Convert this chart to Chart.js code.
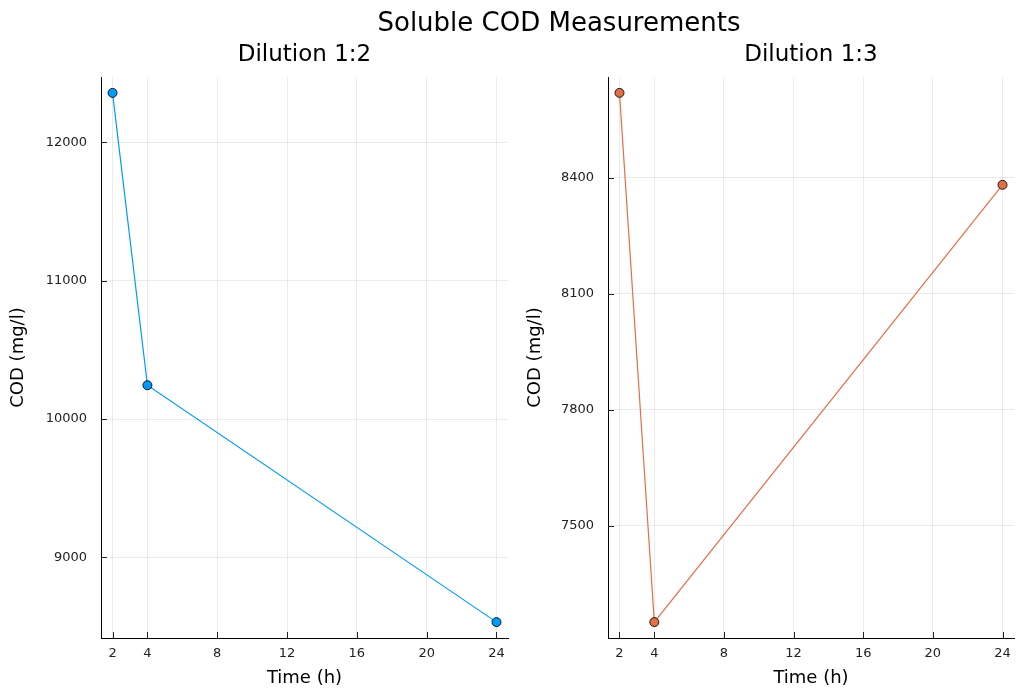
<!DOCTYPE html>
<html>
<head>
<meta charset="utf-8">
<script src="https://cdn.jsdelivr.net/npm/chart.js@4/dist/chart.umd.min.js"></script>
<style>
  html, body { margin: 0; padding: 0; background: #fff; }
  #wrap { position: relative; width: 1016px; height: 693px; overflow: hidden; font-family: "DejaVu Sans", sans-serif; color: #000; }
  .ttl { position: absolute; white-space: nowrap; line-height: 1; transform: translateX(-50%); }
  #c1 { position: absolute; left: 0; top: 0; }
  #c2 { position: absolute; left: 515px; top: 0; }
</style>
</head>
<body>
<div id="wrap">
  <canvas id="c1" width="515" height="693"></canvas>
  <canvas id="c2" width="501" height="693"></canvas>
  <div class="ttl" style="left:559px; top:9px; font-size:26px;">Soluble COD Measurements</div>
  <div class="ttl" style="left:304.5px; top:42px; font-size:23px;">Dilution 1:2</div>
  <div class="ttl" style="left:811px; top:42px; font-size:23px;">Dilution 1:3</div>
</div>
<script>
const timeH = [2, 4, 24];
const dilution12 = [12357, 10244, 8532];
const dilution13 = [8620, 7250, 8382];
const xTickValues = [2, 4, 8, 12, 16, 20, 24];
const leftYTicks = [9000, 10000, 11000, 12000];
const rightYTicks = [7500, 7800, 8100, 8400];
const xLabel = 'Time (h)';
const yLabel = 'COD (mg/l)';

const FONT = '"DejaVu Sans", sans-serif';

function lims(arr) {
  const mn = Math.min(...arr), mx = Math.max(...arr);
  const m = (mx - mn) * 0.03;
  return [mn - m, mx + m];
}

const innerTicks = {
  id: 'innerTicks',
  afterDraw(chart) {
    const ctx = chart.ctx;
    const a = chart.chartArea;
    ctx.save();
    ctx.strokeStyle = '#222';
    ctx.lineWidth = 1;
    const xs = chart.scales.x, ys = chart.scales.y;
    xs.ticks.forEach(t => {
      const px = Math.round(xs.getPixelForValue(t.value)) + 0.5;
      ctx.beginPath(); ctx.moveTo(px, a.bottom); ctx.lineTo(px, a.bottom - 6); ctx.stroke();
    });
    ys.ticks.forEach(t => {
      const py = Math.round(ys.getPixelForValue(t.value)) + 0.5;
      ctx.beginPath(); ctx.moveTo(a.left, py); ctx.lineTo(a.left + 6, py); ctx.stroke();
    });
    ctx.restore();
  }
};

function makeChart(id, values, yTicks, color, yWidth, padRight, yTitlePad) {
  const [xmin, xmax] = lims(timeH);
  const [ymin, ymax] = lims(values);
  return new Chart(document.getElementById(id), {
    type: 'scatter',
    data: {
      datasets: [{
        data: timeH.map((t, i) => ({ x: t, y: values[i] })),
        showLine: true,
        borderColor: color,
        borderWidth: 1.2,
        backgroundColor: color,
        pointBackgroundColor: color,
        pointBorderColor: 'rgba(0,0,0,0.85)',
        pointBorderWidth: 1,
        pointRadius: 4.5,
        pointHoverRadius: 4.5
      }]
    },
    options: {
      responsive: false,
      animation: false,
      events: [],
      layout: { autoPadding: false, padding: { top: 77, right: padRight, bottom: 0, left: 0 } },
      plugins: { legend: { display: false }, tooltip: { enabled: false }, title: { display: false } },
      scales: {
        x: {
          type: 'linear',
          min: xmin, max: xmax,
          afterBuildTicks: s => { s.ticks = xTickValues.map(v => ({ value: v })); },
          afterFit: s => { s.height = 55; s.paddingLeft = 0; s.paddingRight = 0; },
          ticks: { font: { family: FONT, size: 13 }, color: '#222', padding: 8, autoSkip: false, maxRotation: 0, callback: v => String(v) },
          grid: { color: 'rgba(0,0,0,0.08)', lineWidth: 1, drawTicks: false },
          border: { display: true, color: '#000', width: 1 },
          title: { display: true, text: xLabel, font: { family: FONT, size: 18 }, color: '#000', padding: { top: 0, bottom: 4 } }
        },
        y: {
          type: 'linear',
          min: ymin, max: ymax,
          afterBuildTicks: s => { s.ticks = yTicks.map(v => ({ value: v })); },
          afterFit: s => { s.width = yWidth; s.paddingTop = 0; s.paddingBottom = 0; },
          ticks: { font: { family: FONT, size: 13 }, color: '#222', padding: 14, autoSkip: false, callback: v => String(v) },
          grid: { color: 'rgba(0,0,0,0.08)', lineWidth: 1, drawTicks: false },
          border: { display: true, color: '#000', width: 1 },
          title: { display: true, text: yLabel, font: { family: FONT, size: 18 }, color: '#000', padding: { top: yTitlePad, bottom: 0 } }
        }
      }
    },
    plugins: [innerTicks]
  });
}

makeChart('c1', dilution12, leftYTicks, '#009AFA', 101, 7, 8);
makeChart('c2', dilution13, rightYTicks, '#E36F47', 93, 2, 10);
</script>
</body>
</html>
